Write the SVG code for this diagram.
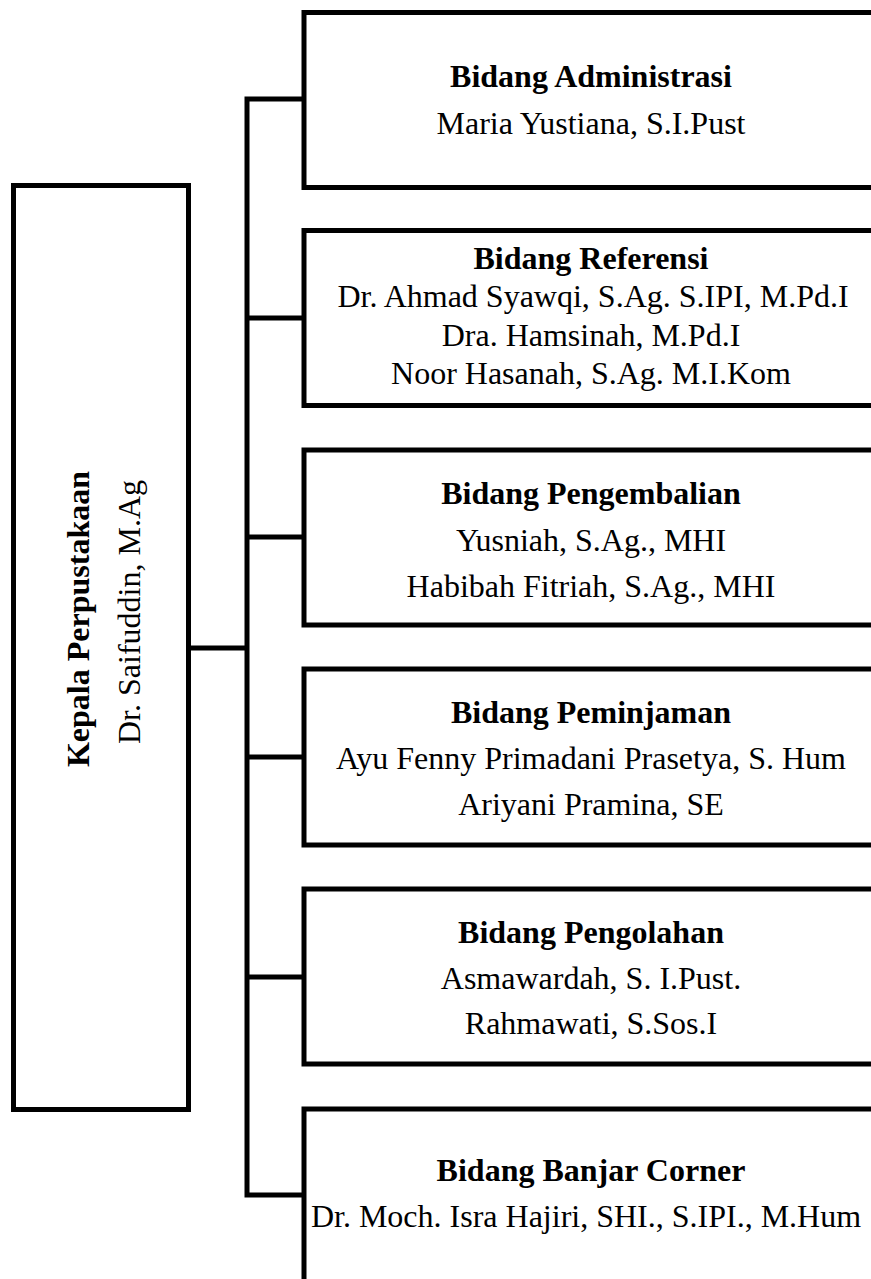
<svg xmlns="http://www.w3.org/2000/svg" width="871" height="1279" viewBox="0 0 871 1279">
<style>
.box{fill:#fff;stroke:#000;stroke-width:5}
.conn{fill:none;stroke:#000;stroke-width:5}
text{font-family:"Liberation Serif","Times New Roman",serif;font-size:32px;fill:#000;text-anchor:middle}
.b{font-weight:bold}
</style>
<rect width="871" height="1279" fill="#fff"/>
<g id="connectors">
<path class="conn" d="M188.5,648 H247"/>
<path class="conn" d="M304,99 H247 V1195 H304"/>
<path class="conn" d="M247,318 H304 M247,537 H304 M247,757 H304 M247,977 H304"/>
</g>
<g id="kepala">
<rect class="box" x="13.5" y="185.5" width="175" height="924"/>
<text class="b" transform="translate(89,619) rotate(-90)">Kepala Perpustakaan</text>
<text transform="translate(140,612) rotate(-90)">Dr. Saifuddin, M.Ag</text>
</g>
<g id="administrasi">
<rect class="box" x="304" y="12.5" width="572" height="175"/>
<text class="b" x="591" y="87">Bidang Administrasi</text>
<text x="591" y="134">Maria Yustiana, S.I.Pust</text>
</g>
<g id="referensi">
<rect class="box" x="304" y="230.5" width="572" height="175"/>
<text class="b" x="591" y="269">Bidang Referensi</text>
<text x="593" y="307">Dr. Ahmad Syawqi, S.Ag. S.IPI, M.Pd.I</text>
<text x="591" y="346">Dra. Hamsinah, M.Pd.I</text>
<text x="591" y="384">Noor Hasanah, S.Ag. M.I.Kom</text>
</g>
<g id="pengembalian">
<rect class="box" x="304" y="450" width="572" height="175"/>
<text class="b" x="591" y="504">Bidang Pengembalian</text>
<text x="591" y="551">Yusniah, S.Ag., MHI</text>
<text x="591" y="597">Habibah Fitriah, S.Ag., MHI</text>
</g>
<g id="peminjaman">
<rect class="box" x="304" y="669" width="572" height="176"/>
<text class="b" x="591" y="723">Bidang Peminjaman</text>
<text x="591" y="769">Ayu Fenny Primadani Prasetya, S. Hum</text>
<text x="591" y="815">Ariyani Pramina, SE</text>
</g>
<g id="pengolahan">
<rect class="box" x="304" y="889" width="572" height="175"/>
<text class="b" x="591" y="943">Bidang Pengolahan</text>
<text x="591" y="989">Asmawardah, S. I.Pust.</text>
<text x="591" y="1034">Rahmawati, S.Sos.I</text>
</g>
<g id="banjar-corner">
<rect class="box" x="304" y="1109" width="572" height="200"/>
<text class="b" x="591" y="1181">Bidang Banjar Corner</text>
<text x="586" y="1227">Dr. Moch. Isra Hajiri, SHI., S.IPI., M.Hum</text>
</g>
</svg>
